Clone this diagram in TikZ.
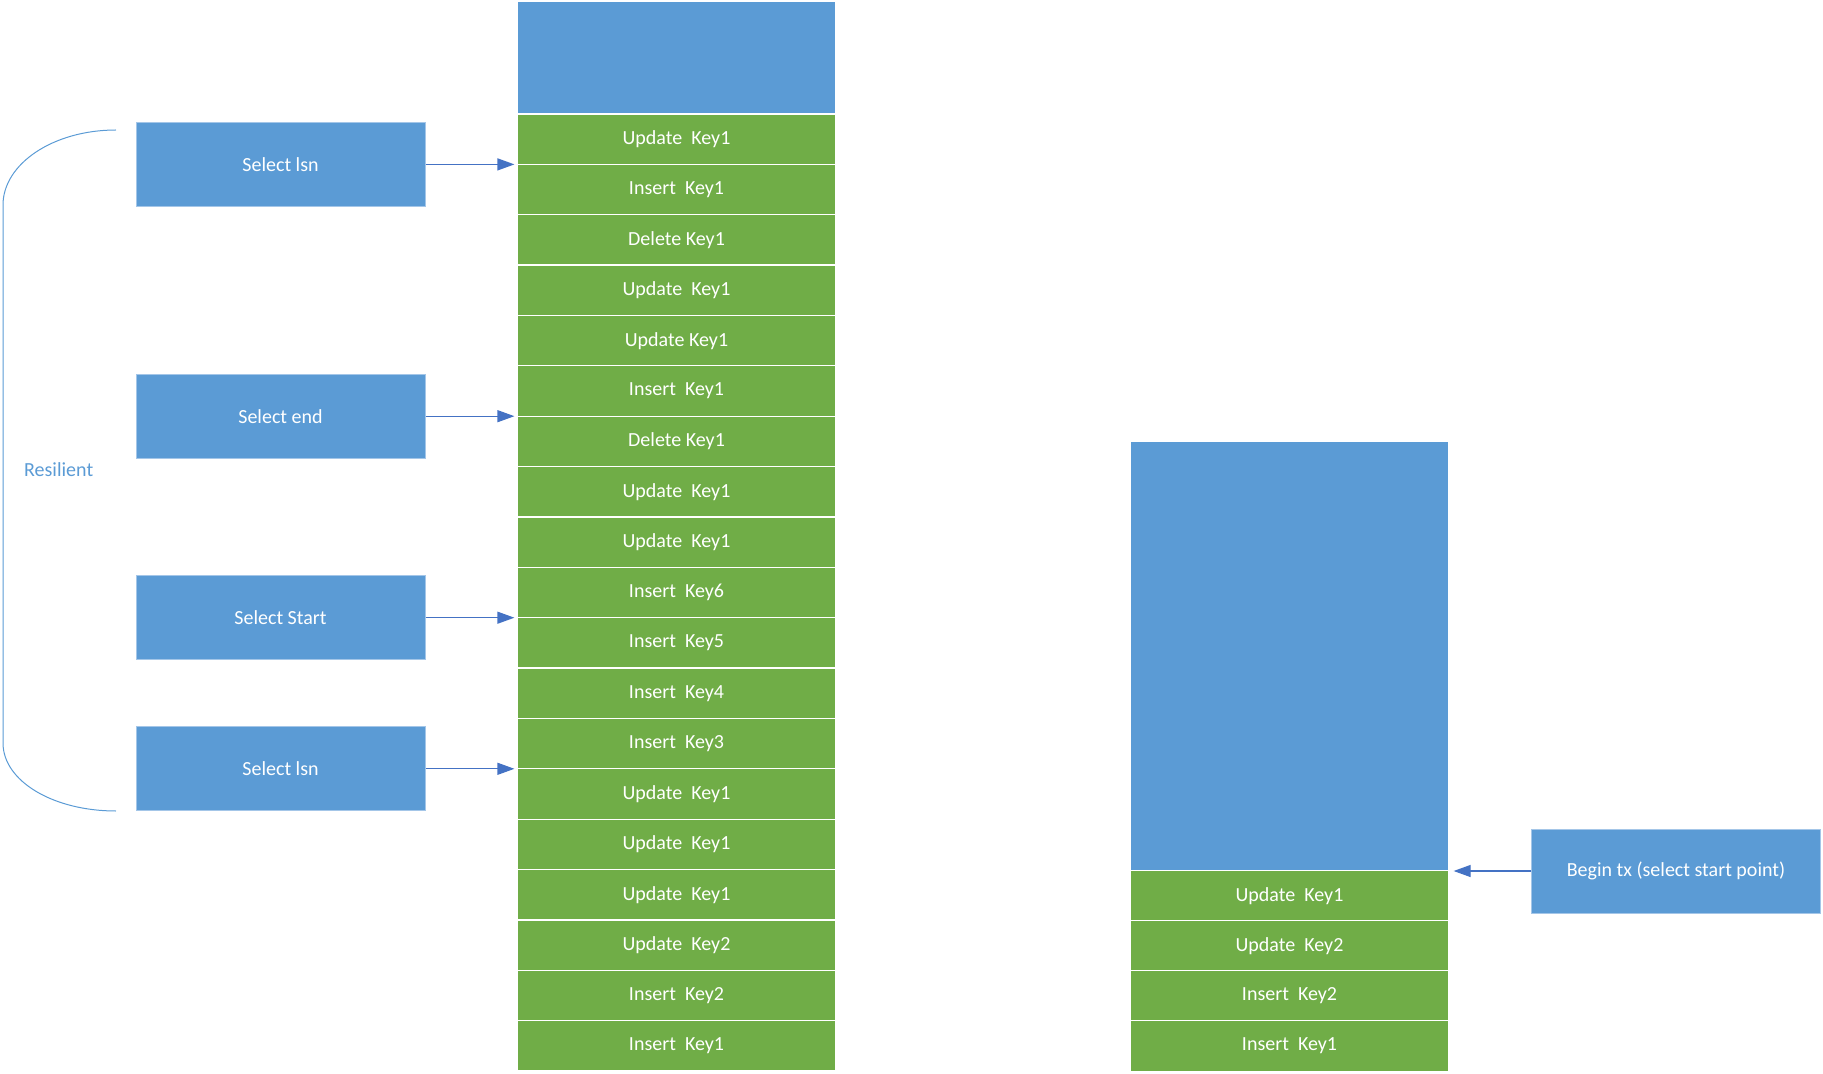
\documentclass[tikz,border=0pt]{standalone}
\usepackage{fontspec}
\setmainfont{Carlito}
\usetikzlibrary{arrows.meta}

\definecolor{opblue}{HTML}{5B9BD5}
\definecolor{opgreen}{HTML}{70AD47}
\definecolor{arrblue}{HTML}{4472C4}
\definecolor{edgeblue}{HTML}{A4C6E8}

\tikzset{
  logrec/.style={draw=white, line width=0.6pt, fill=opgreen, text=white,
    minimum width=159.5pt, minimum height=25.19pt, inner sep=0pt},
  freespace/.style={draw=white, line width=0.6pt, fill=opblue,
    minimum width=159.5pt, inner sep=0pt},
  query/.style={draw=edgeblue, line width=0.5pt, fill=opblue, text=white,
    minimum width=144.5pt, minimum height=42pt, inner sep=0pt},
  ptr/.style={arrblue, line width=0.6pt, -{Triangle[length=8.5pt, width=6pt]}},
}

\begin{document}
\begin{tikzpicture}[x=0.5pt, y=-0.5pt, font=\fontsize{10}{12}\selectfont]
  \useasboundingbox (0,0) rectangle (1823,1074);

  % the log on the left
  \node [freespace, minimum height=56.5pt] (ltop) at (676.5,57.5) {};
  \node [logrec] (l1) at (676.5,139.2) {Update\ \ Key1};
  \node [logrec] (l2) at (676.5,189.6) {Insert\ \ Key1};
  \node [logrec] (l3) at (676.5,239.9) {Delete Key1};
  \node [logrec] (l4) at (676.5,290.3) {Update\ \ Key1};
  \node [logrec] (l5) at (676.5,340.7) {Update Key1};
  \node [logrec] (l6) at (676.5,391.0) {Insert\ \ Key1};
  \node [logrec] (l7) at (676.5,441.4) {Delete Key1};
  \node [logrec] (l8) at (676.5,491.8) {Update\ \ Key1};
  \node [logrec] (l9) at (676.5,542.1) {Update\ \ Key1};
  \node [logrec] (l10) at (676.5,592.5) {Insert\ \ Key6};
  \node [logrec] (l11) at (676.5,642.9) {Insert\ \ Key5};
  \node [logrec] (l12) at (676.5,693.2) {Insert\ \ Key4};
  \node [logrec] (l13) at (676.5,743.6) {Insert\ \ Key3};
  \node [logrec] (l14) at (676.5,794.0) {Update\ \ Key1};
  \node [logrec] (l15) at (676.5,844.3) {Update\ \ Key1};
  \node [logrec] (l16) at (676.5,894.7) {Update\ \ Key1};
  \node [logrec] (l17) at (676.5,945.1) {Update\ \ Key2};
  \node [logrec] (l18) at (676.5,995.4) {Insert\ \ Key2};
  \node [logrec] (l19) at (676.5,1045.8) {Insert\ \ Key1};

  % the queries
  \node [query] (lsnA) at (280.5,164.4) {Select lsn};
  \node [query] (selend) at (280.5,416.2) {Select end};
  \node [query] (selstart) at (280.5,617.7) {Select Start};
  \node [query] (lsnB) at (280.5,768.8) {Select lsn};
  \draw [ptr, shorten >=1pt] (lsnA.east) -- (lsnA.east -| l1.west);
  \draw [ptr, shorten >=1pt] (selend.east) -- (selend.east -| l6.west);
  \draw [ptr, shorten >=1pt] (selstart.east) -- (selstart.east -| l10.west);
  \draw [ptr, shorten >=1pt] (lsnB.east) -- (lsnB.east -| l13.west);

  % brace
  \draw [opblue, line width=0.5pt] (116,130) .. controls (53,130) and (3,164) .. (3,205)
    -- (3,743) .. controls (3,781) and (53,811) .. (116,811);
  \node [text=opblue] (resil) at (58.7,469.7) {Resilient};

  % the log on the right
  \node [freespace, minimum height=215pt] (rtop) at (1289.5,656) {};
  \node [logrec] (r1) at (1289.5,896) {Update\ \ Key1};
  \node [logrec] (r2) at (1289.5,946) {Update\ \ Key2};
  \node [logrec] (r3) at (1289.5,996) {Insert\ \ Key2};
  \node [logrec] (r4) at (1289.5,1046) {Insert\ \ Key1};

  \node [query] (begintx) at (1676,871) {Begin tx (select start point)};
  \draw [ptr, shorten >=2pt] (begintx.west) -- (begintx.west -| rtop.east);
\end{tikzpicture}
\end{document}
